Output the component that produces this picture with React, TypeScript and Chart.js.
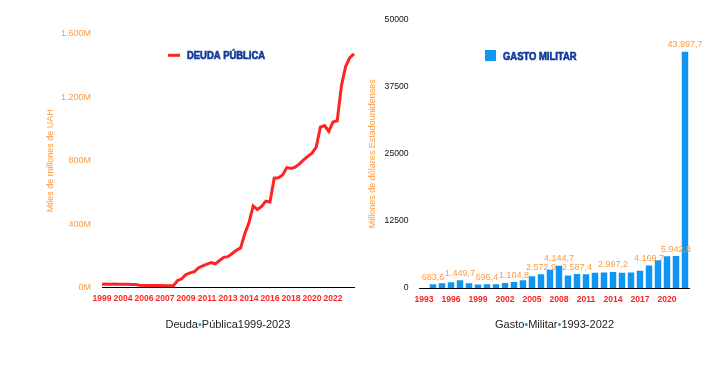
import React, { useEffect, useRef } from 'react';
import { Chart, registerables } from 'chart.js';

Chart.register(...registerables);

// ---------- DATA ----------
const DEBT_LABELS = [
  '1999', '2000', '2001', '2002', '2003',
  '2004', '2004', '2005', '2005', '2005',
  '2006', '2006', '2006', '2006', '2006',
  '2007', '2007', '2008', '2008', '2008',
  '2009', '2009', '2010', '2010', '2010',
  '2011', '2011', '2012', '2012', '2012',
  '2013', '2013', '2013', '2013', '2013',
  '2014', '2014', '2015', '2015', '2015',
  '2016', '2016', '2017', '2017', '2017',
  '2018', '2018', '2019', '2019', '2019',
  '2020', '2020', '2021', '2021', '2021',
  '2022', '2022', '2022', '2022', '2023',
  '2023',
];
const DEBT_VALUES = [
  21, 22, 21, 22, 21, 20, 20, 19, 19,
  14, 13, 13, 12, 12, 12, 11, 11, 11,
  44, 55, 82, 92, 100, 125, 137, 148, 158, 150,
  170, 190, 195, 215, 235, 250, 340, 410, 515, 492,
  512, 545, 540, 690, 692, 710, 757, 752, 760, 780,
  805, 828, 848, 886, 1012, 1022, 985, 1045, 1052, 1272,
  1395, 1450, 1475,
];
const DEBT_TICK_STEP = 400;
const DEBT_MAX = 1600;

const MIL_YEARS = [
  '1993', '1994', '1995', '1996', '1997', '1998', '1999', '2000', '2001', '2002',
  '2003', '2004', '2005', '2006', '2007', '2008', '2009', '2010', '2011', '2012',
  '2013', '2014', '2015', '2016', '2017', '2018', '2019', '2020', '2021', '2022',
];
const MIL_VALUES: (number | null)[] = [
  null, 683.6, 870, 1090, 1449.7, 880, 650, 696.4, 690, 940,
  1104.8, 1450, 2180, 2572.9, 3400, 4144.7, 2350, 2587.4, 2560, 2860,
  2880, 2997.2, 2860, 2870, 3200, 4169.7, 5150, 5900, 5942.8, 43997.7,
];
const MIL_ANNOTATED = ['1994', '1997', '2000', '2003', '2006', '2008', '2010', '2014', '2018', '2021', '2022'];
const MIL_TICK_STEP = 12500;
const MIL_MAX = 50000;

// ---------- STYLE ----------
const SANS = '"Liberation Sans", Arial, Helvetica, sans-serif';
const ORANGE = '#ff9a3c';
const RED = '#ff2424';
const BLUE = '#0e96f2';
const NAVY = '#0f3c9e';

function fmtThousands(n: number) {
  return String(Math.round(n)).replace(/\B(?=(\d{3})+(?!\d))/g, '.');
}
function fmtEs(v: number) {
  const [i, d] = v.toFixed(1).split('.');
  return i.replace(/\B(?=(\d{3})+(?!\d))/g, '.') + ',' + d;
}

// legend drawn with a horizontally condensed heavy sans (narrow face look)
const customLegend = {
  id: 'customLegend',
  afterDraw(chart: any, _a: any, o: any) {
    const { ctx } = chart;
    ctx.save();
    if (o.kind === 'line') {
      ctx.strokeStyle = o.color;
      ctx.lineWidth = 3;
      ctx.beginPath();
      ctx.moveTo(o.x, o.y);
      ctx.lineTo(o.x + 12, o.y);
      ctx.stroke();
    } else {
      ctx.fillStyle = o.color;
      ctx.fillRect(o.x, o.y - 5.5, 11, 11);
    }
    ctx.translate(o.x + o.gap, o.y + 1);
    ctx.scale(0.82, 1);
    ctx.font = 'bold 11.5px ' + SANS;
    ctx.fillStyle = NAVY;
    ctx.strokeStyle = NAVY;
    ctx.lineWidth = 0.7;
    ctx.textBaseline = 'middle';
    ctx.textAlign = 'left';
    ctx.fillText(o.text, 0, 0);
    ctx.strokeText(o.text, 0, 0);
    ctx.restore();
  },
};

const bottomTitle = {
  id: 'bottomTitle',
  afterDraw(chart: any, _a: any, o: any) {
    const { ctx, chartArea } = chart;
    ctx.save();
    ctx.font = '11px ' + SANS;
    ctx.textBaseline = 'middle';
    ctx.textAlign = 'left';
    const parts: string[] = String(o.text).split('•');
    const bw = ctx.measureText('•').width;
    let total = 0;
    parts.forEach((p, i) => { total += ctx.measureText(p).width + (i < parts.length - 1 ? bw : 0); });
    let x = (chartArea.left + chartArea.right) / 2 - total / 2;
    const y = chartArea.bottom + o.offset;
    parts.forEach((p, i) => {
      ctx.fillStyle = '#222';
      ctx.fillText(p, x, y);
      x += ctx.measureText(p).width;
      if (i < parts.length - 1) {
        ctx.fillStyle = BLUE;
        ctx.fillText('•', x, y);
        x += bw;
      }
    });
    ctx.restore();
  },
};

const barLabels = {
  id: 'barLabels',
  afterDatasetsDraw(chart: any, _a: any, o: any) {
    const { ctx } = chart;
    const meta = chart.getDatasetMeta(0);
    const labels: string[] = chart.data.labels;
    const data = chart.data.datasets[0].data;
    ctx.save();
    ctx.font = '9px ' + SANS;
    ctx.fillStyle = ORANGE;
    ctx.textAlign = 'center';
    ctx.textBaseline = 'middle';
    (o.years as string[]).forEach((yr) => {
      const i = labels.indexOf(yr);
      if (i < 0 || data[i] == null) return;
      const el = meta.data[i];
      ctx.fillText(fmtEs(data[i]), el.x, el.y - 7);
    });
    ctx.restore();
  },
};

export default function App() {
  const leftRef = useRef<HTMLCanvasElement>(null);
  const rightRef = useRef<HTMLCanvasElement>(null);

  useEffect(() => {
    const N = DEBT_VALUES.length;
    const c1 = new Chart(leftRef.current!, {
      type: 'line',
      data: {
        labels: DEBT_LABELS,
        datasets: [{
          label: 'DEUDA PÚBLICA',
          data: DEBT_VALUES,
          borderColor: RED,
          backgroundColor: RED,
          borderWidth: 3,
          pointRadius: 0,
          tension: 0,
          fill: false,
        }],
      },
      options: {
        responsive: false,
        animation: false,
        layout: { padding: { left: 33.3, right: 3, top: 26, bottom: 54.5 } },
        plugins: {
          legend: { display: false },
          tooltip: { enabled: false },
          customLegend: { kind: 'line', color: RED, text: 'DEUDA PÚBLICA', x: 160, y: 47.3, gap: 19 },
          bottomTitle: { text: 'Deuda•Pública1999-2023', offset: 37.5 },
        } as any,
        scales: {
          x: {
            grid: { display: false, drawTicks: false },
            border: { display: true, color: '#000', width: 1 },
            ticks: {
              autoSkip: false,
              maxRotation: 0,
              padding: 6,
              color: RED,
              font: { family: SANS, size: 8.5, weight: 'bold' },
              callback: (_v: any, i: number) => (i % 5 === 0 && i < N - 1 ? DEBT_LABELS[i] : ''),
            },
            afterFit: (s: any) => { s.height = 20; },
          },
          y: {
            min: 0,
            max: DEBT_MAX,
            grid: { display: false },
            border: { display: false },
            ticks: {
              stepSize: DEBT_TICK_STEP,
              color: ORANGE,
              font: { family: SANS, size: 9 },
              callback: (v: any) => fmtThousands(Number(v)) + 'M',
            },
            title: { display: true, text: 'Miles de millones de UAH', color: ORANGE, font: { family: SANS, size: 9 } },
            afterFit: (s: any) => { s.width = 60.7; },
          },
        },
      } as any,
      plugins: [customLegend, bottomTitle],
    });

    const c2 = new Chart(rightRef.current!, {
      type: 'bar',
      data: {
        labels: MIL_YEARS,
        datasets: [{
          label: 'GASTO MILITAR',
          data: MIL_VALUES,
          backgroundColor: BLUE,
          borderWidth: 0,
        }],
      },
      options: {
        responsive: false,
        animation: false,
        layout: { padding: { left: 3.6, right: 16.5, top: 11.5, bottom: 54 } },
        plugins: {
          legend: { display: false },
          tooltip: { enabled: false },
          customLegend: { kind: 'box', color: BLUE, text: 'GASTO MILITAR', x: 125, y: 47.5, gap: 18 },
          bottomTitle: { text: 'Gasto•Militar•1993-2022', offset: 37 },
          barLabels: { years: MIL_ANNOTATED },
        } as any,
        scales: {
          x: {
            grid: { display: false, drawTicks: false },
            border: { display: true, color: '#000', width: 1 },
            ticks: {
              autoSkip: false,
              maxRotation: 0,
              padding: 6,
              color: RED,
              font: { family: SANS, size: 8.6, weight: 'bold' },
              callback: (_v: any, i: number) => (i % 3 === 0 ? MIL_YEARS[i] : ''),
            },
            afterFit: (s: any) => { s.height = 20; },
          },
          y: {
            min: 0,
            max: MIL_MAX,
            grid: { display: false },
            border: { display: false },
            ticks: {
              stepSize: MIL_TICK_STEP,
              color: '#111',
              font: { family: SANS, size: 8.6 },
              callback: (v: any) => String(v),
            },
            title: { display: true, text: 'Millones de dólares Estadounidenses', color: ORANGE, font: { family: SANS, size: 9 } },
            afterFit: (s: any) => { s.width = 55.9; },
          },
        },
      } as any,
      plugins: [customLegend, bottomTitle, barLabels],
    });

    return () => {
      c1.destroy();
      c2.destroy();
    };
  }, []);

  return (
    <div style={{ position: 'relative', width: 692, height: 354, background: '#fff' }}>
      <canvas ref={leftRef} width={352} height={354} style={{ position: 'fixed', left: 8, top: 8 }} />
      <canvas ref={rightRef} width={346} height={354} style={{ position: 'fixed', left: 360, top: 8 }} />
    </div>
  );
}
